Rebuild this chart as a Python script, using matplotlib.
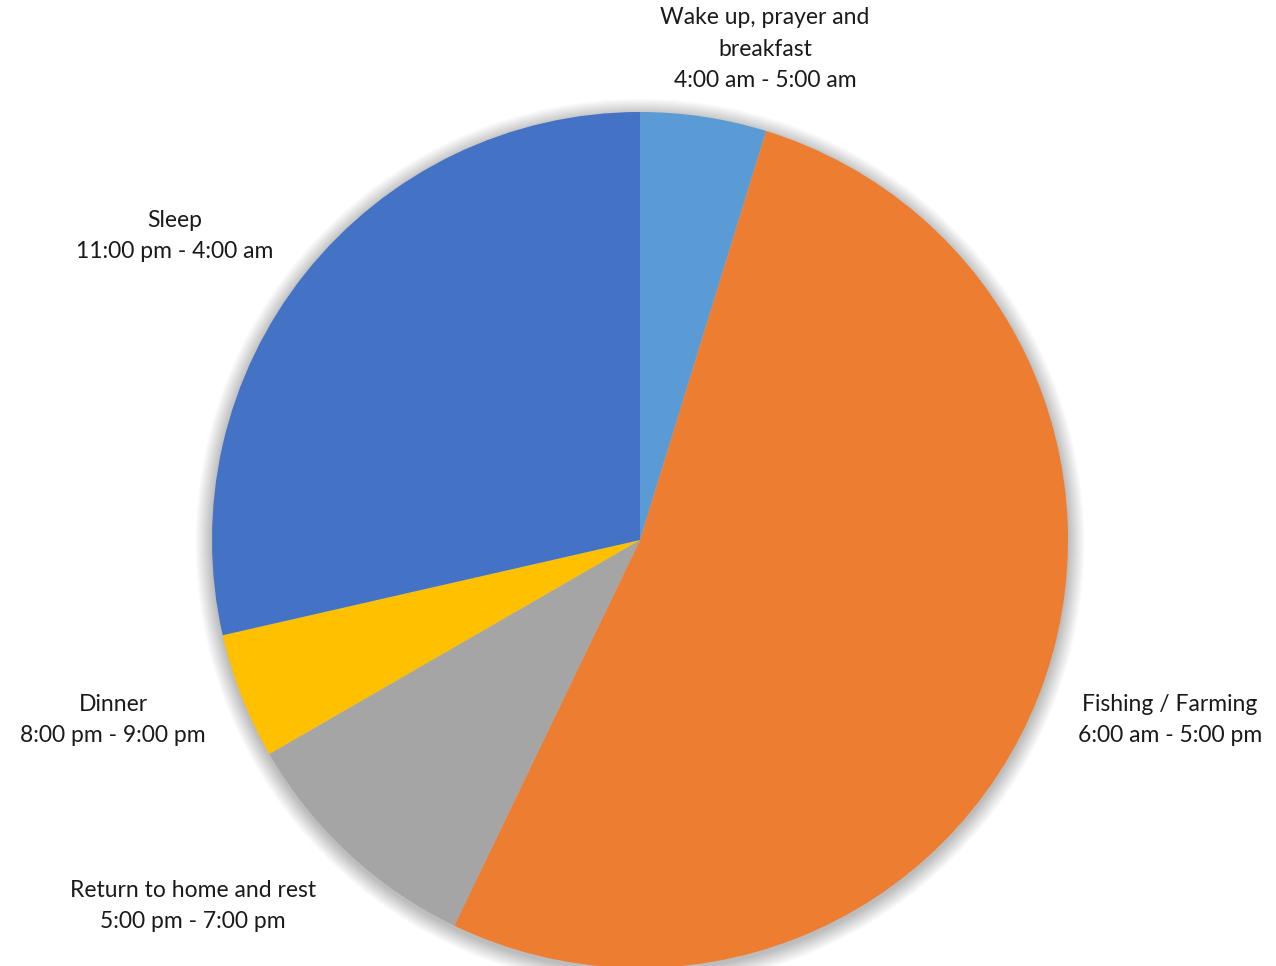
import numpy as np
import matplotlib
matplotlib.use('Agg')
import matplotlib.pyplot as plt
import matplotlib.patches as patches

# hours spent on each activity (clockwise from 12 o'clock)
activities = ['Wake up, prayer and\nbreakfast', 'Fishing / Farming', 'Return to home and rest', 'Dinner', 'Sleep']
times = ['4:00 am - 5:00 am', '6:00 am - 5:00 pm', '5:00 pm - 7:00 pm', '8:00 pm - 9:00 pm', '11:00 pm - 4:00 am']
hours = [1, 11, 2, 1, 6]
colors = ['#5B9BD5', '#ED7D31', '#A5A5A5', '#FFC000', '#4472C4']

# label anchor (pixel, from top) positions, centre of text block
label_pos = [(765, 49), (1170, 720), (193, 906), (113, 720), (175, 236)]

W, H = 1276, 966
fig = plt.figure(figsize=(W / 100, H / 100), dpi=100)
ax = fig.add_axes([0, 0, 1, 1])

cx, cy, r = 640, H - 540, 428

# soft shadow behind the pie
for i in range(22, 0, -1):
    ax.add_patch(patches.Circle((cx, cy - 3), r + i * 0.75, facecolor='black',
                                edgecolor='none', alpha=0.011, zorder=0))

ax.pie(hours, colors=colors, startangle=90, counterclock=False,
       center=(cx, cy), radius=r, frame=True,
       wedgeprops=dict(linewidth=0, edgecolor='none'))
ax.set_xlim(0, W)
ax.set_ylim(0, H)
ax.set_aspect('auto')
ax.axis('off')

for name, t, (x, y) in zip(activities, times, label_pos):
    ax.text(x, H - y, name + '\n' + t, ha='center', va='center', fontsize=16.5,
            family='Lato', color='#1a1a1a', linespacing=1.6)

fig.savefig('out.png', dpi=100)
